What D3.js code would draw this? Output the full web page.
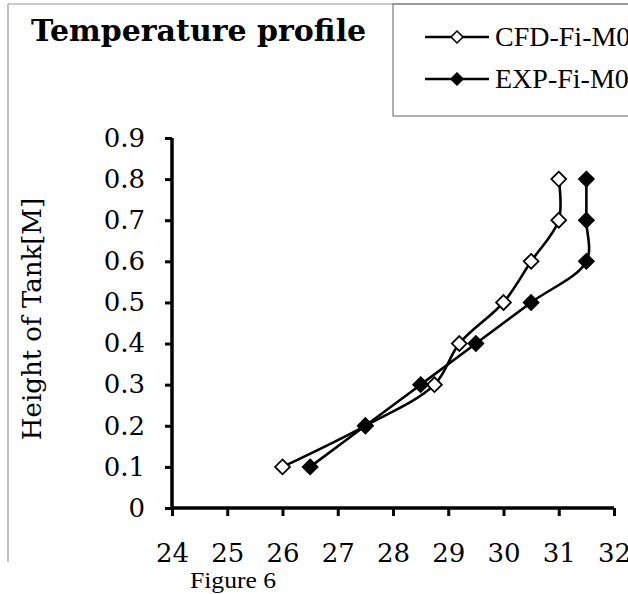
<!DOCTYPE html>
<html>
<head>
<meta charset="utf-8">
<script src="https://cdn.jsdelivr.net/npm/d3@7"></script>
<style>
  html, body { margin: 0; padding: 0; background: #fff; }
  svg { display: block; }
</style>
</head>
<body>
<svg id="chart" width="628" height="594"></svg>
<script>
// ---- Data ----
const heights = [0.1, 0.2, 0.3, 0.4, 0.5, 0.6, 0.7, 0.8];
const cfdTemps = [26, 27.5, 28.75, 29.2, 30, 30.5, 31, 31];
const expTemps = [26.5, 27.5, 28.5, 29.5, 30.5, 31.5, 31.5, 31.5];
const seriesNames = ["CFD-Fi-M0", "EXP-Fi-M0"];
const xTicks = [24, 25, 26, 27, 28, 29, 30, 31, 32];
const yTicks = [0, 0.1, 0.2, 0.3, 0.4, 0.5, 0.6, 0.7, 0.8, 0.9];
const titleText = "Temperature profile";
const yLabelText = "Height of Tank[M]";
const captionText = "Figure 6";

const svg = d3.select("#chart");

// Outer frame (clipped at right/bottom in reference)
svg.append("line").attr("x1", 8).attr("y1", 4).attr("x2", 628).attr("y2", 4)
  .attr("stroke", "#9a9a9a").attr("stroke-width", 1.2);
svg.append("line").attr("x1", 8).attr("y1", 4).attr("x2", 8).attr("y2", 562)
  .attr("stroke", "#9a9a9a").attr("stroke-width", 1.2);

// Scales
const x = d3.scaleLinear().domain([24, 32]).range([172, 614]);
const y = d3.scaleLinear().domain([0, 0.9]).range([508, 138]);

// Axes
const serif = "'DejaVu Serif', serif";
const xAxis = svg.append("g").attr("transform", `translate(0,${y(0)})`)
  .call(d3.axisBottom(x).tickValues(xTicks).tickSize(8).tickPadding(28).tickFormat(d3.format("d")));
const yAxis = svg.append("g").attr("transform", `translate(${x(24)},0)`)
  .call(d3.axisLeft(y).tickValues(yTicks).tickSize(7).tickPadding(20).tickFormat(d => d === 0 ? "0" : d3.format(".1f")(d)));
[xAxis, yAxis].forEach(g => {
  g.select(".domain").attr("stroke", "#000").attr("stroke-width", 3.5);
  g.selectAll(".tick line").attr("stroke", "#000").attr("stroke-width", 3);
  g.selectAll(".tick text").attr("fill", "#000").style("font-family", serif).style("font-size", "26px");
});
xAxis.select(".domain").attr("d", `M${x(24)},0H${x(32)}`);
yAxis.select(".domain").attr("d", `M0,${y(0.9)}V${y(0)}`);

// Lines
const line = d3.line().curve(d3.curveCatmullRom.alpha(0.5));
const cfdPts = heights.map((h, i) => [x(cfdTemps[i]), y(h)]);
const expPts = heights.map((h, i) => [x(expTemps[i]), y(h)]);
svg.append("path").attr("d", line(cfdPts)).attr("fill", "none").attr("stroke", "#000").attr("stroke-width", 2.6);
svg.append("path").attr("d", line(expPts)).attr("fill", "none").attr("stroke", "#000").attr("stroke-width", 2.6);

const diamond = d3.symbol().type(d3.symbolDiamond2).size(140);
function markers(pts, fill) {
  svg.append("g").selectAll("path").data(pts).join("path")
    .attr("transform", d => `translate(${d[0]},${d[1]})`)
    .attr("d", diamond)
    .attr("fill", fill).attr("stroke", "#000").attr("stroke-width", 1.8);
}
markers(cfdPts, "#fff");
markers(expPts, "#000");

// Title
svg.append("text").attr("x", 31).attr("y", 41)
  .style("font-family", serif).style("font-weight", "bold").style("font-size", "30px")
  .text(titleText);

// Y label
svg.append("text").attr("transform", `translate(41,319) rotate(-90)`)
  .attr("text-anchor", "middle")
  .style("font-family", serif).style("font-size", "26px")
  .text(yLabelText);

// Legend
svg.append("rect").attr("x", 393).attr("y", 4).attr("width", 260).attr("height", 112)
  .attr("fill", "none").attr("stroke", "#7a7a7a").attr("stroke-width", 1.2);
const legendRows = [{ name: seriesNames[0], fill: "#fff", cy: 37 }, { name: seriesNames[1], fill: "#000", cy: 79 }];
legendRows.forEach(r => {
  svg.append("line").attr("x1", 425).attr("x2", 489).attr("y1", r.cy).attr("y2", r.cy)
    .attr("stroke", "#000").attr("stroke-width", 2.6);
  svg.append("path").attr("transform", `translate(457,${r.cy})`).attr("d", d3.symbol().type(d3.symbolDiamond2).size(90))
    .attr("fill", r.fill).attr("stroke", "#000").attr("stroke-width", 1.6);
  svg.append("text").attr("x", 495).attr("y", r.cy + 9)
    .style("font-family", "'Liberation Serif', serif").style("font-size", "28px")
    .text(r.name);
});

// Caption
svg.append("text").attr("x", 190).attr("y", 588)
  .attr("textLength", 86).attr("lengthAdjust", "spacingAndGlyphs")
  .style("font-family", "'Liberation Serif', serif").style("font-size", "24px")
  .text(captionText);
</script>
</body>
</html>
